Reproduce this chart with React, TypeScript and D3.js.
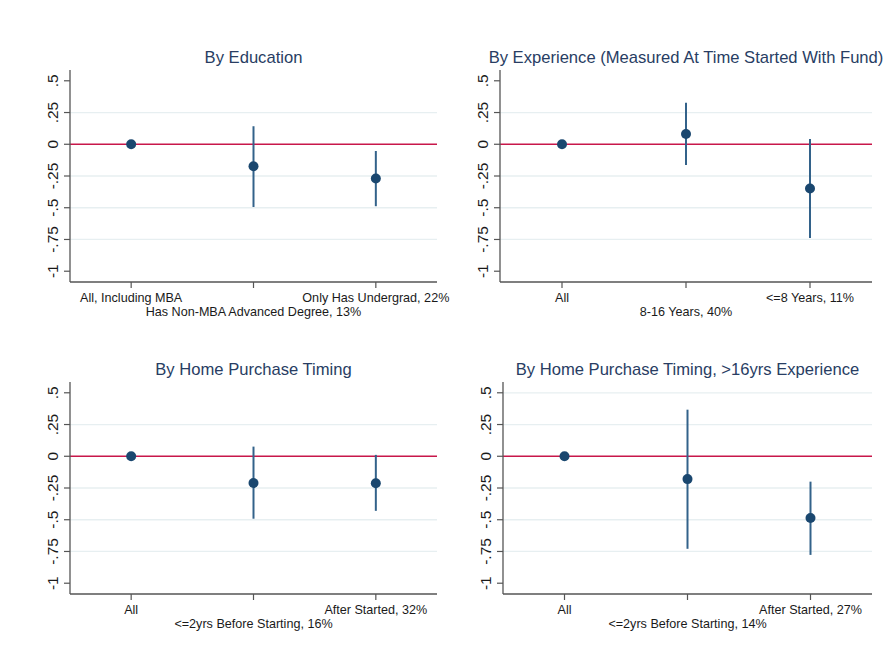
import React from "react";
import * as d3 from "d3";

const panelTitles = [
  "By Education",
  "By Experience (Measured At Time Started With Fund)",
  "By Home Purchase Timing",
  "By Home Purchase Timing, >16yrs Experience",
];
const categoryLabels = [
  ["All, Including MBA", "Has Non-MBA Advanced Degree, 13%", "Only Has Undergrad, 22%"],
  ["All", "8-16 Years, 40%", "<=8 Years, 11%"],
  ["All", "<=2yrs Before Starting, 16%", "After Started, 32%"],
  ["All", "<=2yrs Before Starting, 14%", "After Started, 27%"],
];
const estimates = [
  [0, -0.173, -0.27],
  [0, 0.081, -0.349],
  [0, -0.211, -0.213],
  [0, -0.18, -0.487],
];
const ciLow = [
  [null, -0.494, -0.488],
  [null, -0.163, -0.738],
  [null, -0.492, -0.43],
  [null, -0.729, -0.777],
];
const ciHigh = [
  [null, 0.142, -0.053],
  [null, 0.328, 0.042],
  [null, 0.076, 0.011],
  [null, 0.367, -0.2],
];
const yTicks = [0.5, 0.25, 0, -0.25, -0.5, -0.75, -1];
const yTickLabels = [".5", ".25", "0", "-.25", "-.5", "-.75", "-1"];
const gridTicks = [
  [0.25, -0.25, -0.5, -0.75],
  [0.25, -0.25, -0.5, -0.75],
  [0.25, -0.25, -0.5, -0.75],
  [0.5, 0.25, -0.25, -0.5, -0.75],
];

const layouts = [
  { left: 70, right: 437, top: 70, bottom: 282 },
  { left: 500, right: 872, top: 70, bottom: 282 },
  { left: 70, right: 437, top: 382, bottom: 594 },
  { left: 503, right: 872, top: 382, bottom: 594 },
];

const NAVY = "#1a476f";
const SPIKE = "#33628a";
const RED = "#c8174a";
const AXIS = "#555555";
const TEXT = "#1a1a1a";
const TITLE = "#283d63";
const GRID = "#e7eff1";
const FONT = "'Liberation Sans', Arial, Helvetica, sans-serif";

function Panel({ idx }: { idx: number }) {
  const L = layouts[idx];
  const x = d3.scaleLinear().domain([0.5, 3.5]).range([L.left, L.right]);
  const y = d3.scaleLinear().domain([-1.085, 0.585]).range([L.bottom, L.top]);
  const cats = [1, 2, 3];
  return (
    <g>
      <text
        x={(L.left + L.right) / 2}
        y={L.top - 13}
        textAnchor="middle"
        dominantBaseline="central"
        fontSize={16.6}
        fill={TITLE}
        fontFamily={FONT}
      >
        {panelTitles[idx]}
      </text>
      {gridTicks[idx].map((v) => (
        <line key={"g" + v} x1={L.left} x2={L.right} y1={y(v)} y2={y(v)} stroke={GRID} strokeWidth={1.3} />
      ))}
      <line x1={L.left} x2={L.right} y1={y(0)} y2={y(0)} stroke={RED} strokeWidth={1.5} />
      <line x1={L.left} x2={L.left} y1={L.top} y2={L.bottom} stroke={AXIS} strokeWidth={1.3} />
      {yTicks.map((v, i) => (
        <g key={"t" + v}>
          <line x1={L.left - 6} x2={L.left} y1={y(v)} y2={y(v)} stroke={AXIS} strokeWidth={1.2} />
          <text
            transform={`translate(${L.left - 17.5},${y(v)}) rotate(-90)`}
            textAnchor="middle"
            dominantBaseline="central"
            fontSize={15.5}
            fill={TEXT}
            fontFamily={FONT}
          >
            {yTickLabels[i]}
          </text>
        </g>
      ))}
      <line x1={L.left} x2={L.right} y1={L.bottom} y2={L.bottom} stroke={AXIS} strokeWidth={1.3} />
      {cats.map((c, i) => (
        <g key={"x" + c}>
          <line x1={x(c)} x2={x(c)} y1={L.bottom} y2={L.bottom + 6} stroke={AXIS} strokeWidth={1.2} />
          <text
            x={x(c)}
            y={L.bottom + (i === 1 ? 30 : 16)}
            textAnchor="middle"
            dominantBaseline="central"
            fontSize={12.6}
            fill={TEXT}
            fontFamily={FONT}
          >
            {categoryLabels[idx][i]}
          </text>
        </g>
      ))}
      {cats.map((c, i) => {
        const lo = ciLow[idx][i];
        const hi = ciHigh[idx][i];
        return lo !== null && hi !== null ? (
          <line key={"ci" + c} x1={x(c)} x2={x(c)} y1={y(lo)} y2={y(hi)} stroke={SPIKE} strokeWidth={2} />
        ) : null;
      })}
      {cats.map((c, i) => (
        <circle key={"p" + c} cx={x(c)} cy={y(estimates[idx][i])} r={5} fill={NAVY} />
      ))}
    </g>
  );
}

export default function App() {
  return (
    <svg
      width={894}
      height={662}
      style={{ position: "absolute", left: 0, top: 0, background: "#ffffff" }}
    >
      <rect x={0} y={0} width={894} height={662} fill="#ffffff" />
      {[0, 1, 2, 3].map((i) => (
        <Panel key={i} idx={i} />
      ))}
    </svg>
  );
}
